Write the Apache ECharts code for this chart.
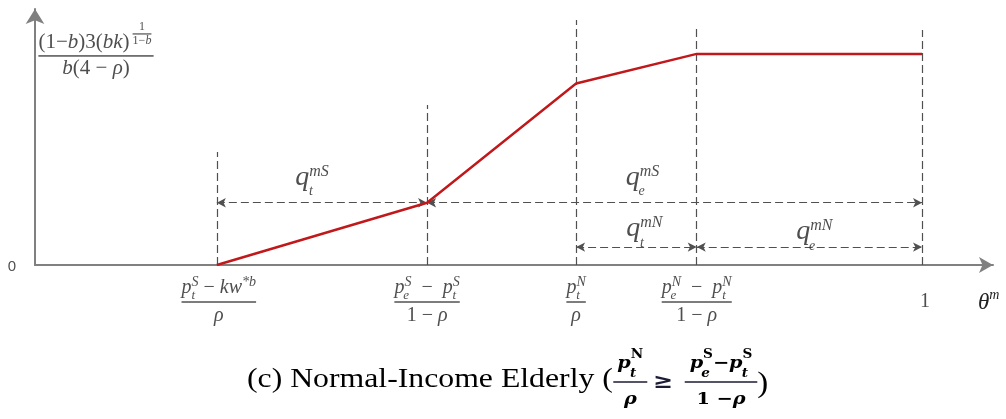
<!DOCTYPE html>
<html>
<head>
<meta charset="utf-8">
<script src="https://cdn.jsdelivr.net/npm/echarts@6/dist/echarts.min.js"></script>
<style>
  html, body { margin: 0; padding: 0; background: #fff; }
  #chart { width: 1006px; height: 419px; }
</style>
</head>
<body>
<div id="chart"></div>
<script>
  // theta of each break point and height of the demand curve there
  const breaksX = [0.205, 0.442, 0.61, 0.746, 1];
  const curveY = [0, 0.295, 0.86, 1, 1];
  // upper end of the dashed guide over each break
  const guideTop = [0.536, 0.758, 1.161, 1.137, 1.114];
  // dimension arrows: start break, end break, height
  const spanFrom = [0, 1, 2, 3];
  const spanTo = [1, 4, 3, 4];
  const spanLevel = [0.295, 0.295, 0.085, 0.085];
  const spanLabels = [
    "{q|q}{sub| t}{sup|mS}",
    "{q|q}{sub| e}{sup|mS}",
    "{q|q}{sub| t}{sup|mN}",
    "{q|q}{sub| e}{sup|mN}",
  ];
  const tickLabels = [
    "{i|p}{sub| t}{sup|S}{n| − }{i|kw}{sup|*b}\n{hr|}\n{i|ρ}",
    "{i|p}{sub| e}{sup|S}{n|  −  }{i|p}{sub| t}{sup|S}\n{hr|}\n{n|1 − }{i|ρ}",
    "{i|p}{sub| t}{sup|N}\n{hr|}\n{i|ρ}",
    "{i|p}{sub| e}{sup|N}{n|  −  }{i|p}{sub| t}{sup|N}\n{hr|}\n{n|1 − }{i|ρ}",
    "{one|1}",
  ];
  const plateauLabel = "{n|(1−}{i|b}{n|)3(}{i|bk}{n|)}{gap|}\n{hr|}\n{i|b}{n|(4 − }{i|ρ}{n|)}";
  const exponentLabel = "{e|1}\n{ehr|}\n{e|1−}{ei|b}";
  const zeroLabel = "0";
  const axisName = "{th|θ}{thsup|m}";
  const captionText = "(c) Normal-Income Elderly (";
  const captionLeft = "{ci|p}{cb| t}{cs|N}\n{chr1|}\n{cdi|ρ}";
  const captionRight = "{ci|p}{cb| e}{cs|S}{cm|−}{ci|p}{cb| t}{cs|S}\n{chr2|}\n{cd|1 −}{cdi|ρ}";

  const serif = "Liberation Serif";
  const ink = "#222";
  const dash = "#505050";

  const mathRich = {
    n: { fontFamily: serif, fontSize: 20, color: ink, lineHeight: 20, align: "center" },
    i: { fontFamily: serif, fontStyle: "italic", fontSize: 20, color: ink, lineHeight: 20, align: "center" },
    sup: { fontFamily: serif, fontStyle: "italic", fontSize: 14, color: ink, lineHeight: 10, padding: [0, 0, 12, 0], align: "center" },
    sub: { fontFamily: serif, fontStyle: "italic", fontSize: 13, color: ink, lineHeight: 10, padding: [16, 0, 0, 0], width: 0, align: "center" },
    hr: { width: "100%", height: 0, borderWidth: 0.9, borderColor: ink, lineHeight: 8, align: "left" },
    one: { fontFamily: serif, fontSize: 20, color: ink, lineHeight: 22, align: "center" },
  };
  const plateauRich = {
    n: { fontFamily: serif, fontSize: 21, color: ink, lineHeight: 20, align: "center" },
    i: { fontFamily: serif, fontStyle: "italic", fontSize: 21, color: ink, lineHeight: 20, align: "center" },
    gap: { width: 24, height: 1, lineHeight: 20, align: "center" },
    hr: { width: "100%", height: 0, borderWidth: 0.9, borderColor: ink, lineHeight: 6, align: "left" },
    e: { fontFamily: serif, fontSize: 12, color: ink, lineHeight: 11, align: "center" },
    ei: { fontFamily: serif, fontStyle: "italic", fontSize: 12, color: ink, lineHeight: 11, align: "center" },
    ehr: { width: "100%", height: 0, borderWidth: 0.7, borderColor: ink, lineHeight: 3, align: "left" },
  };
  const spanRich = {
    q: { fontFamily: serif, fontStyle: "italic", fontSize: 28, color: ink, lineHeight: 30, align: "center" },
    sup: { fontFamily: serif, fontStyle: "italic", fontSize: 16, color: ink, lineHeight: 10, padding: [0, 0, 12, 0], align: "center" },
    sub: { fontFamily: serif, fontStyle: "italic", fontSize: 14, color: ink, lineHeight: 10, padding: [28, 0, 0, 0], width: 0, align: "center" },
  };
  const captionFont = "DejaVu Serif";
  const captionInk = "#1c1c34";
  const capBase = { fontFamily: captionFont, fontWeight: "bold", color: captionInk, align: "center" };
  const captionRich = {
    ci: Object.assign({}, capBase, { fontStyle: "italic", fontSize: 17, lineHeight: 20, padding: [0, 0, 10, 0] }),
    cm: Object.assign({}, capBase, { fontSize: 17, lineHeight: 20, padding: [0, 0, 10, 0] }),
    cs: Object.assign({}, capBase, { fontSize: 12, lineHeight: 10, padding: [0, 0, 28, 0] }),
    cb: Object.assign({}, capBase, { fontStyle: "italic", fontSize: 12, lineHeight: 10, padding: [10, 0, 0, 0], width: 0 }),
    cd: Object.assign({}, capBase, { fontSize: 17, lineHeight: 20, padding: [10, 0, 0, 0] }),
    cdi: Object.assign({}, capBase, { fontStyle: "italic", fontSize: 17, lineHeight: 20, padding: [10, 0, 0, 0] }),
    chr1: { width: 30, height: 0, borderWidth: 1.5, borderColor: captionInk, lineHeight: 6, align: "left" },
    chr2: { width: 64, height: 0, borderWidth: 1.5, borderColor: captionInk, lineHeight: 6, align: "left" },
  };

  const tickOffsets = [[2, 37], [0, 37], [0, 37], [0, 37], [3, 37]];
  const spanOffsets = [[-10, -25], [-32, -25], [8, -18], [5, -15]];

  const labelData = [];
  tickLabels.forEach((t, i) => {
    labelData.push({ value: [breaksX[i], 0], label: { formatter: t, offset: tickOffsets[i] } });
  });
  spanLabels.forEach((t, i) => {
    const mid = (breaksX[spanFrom[i]] + breaksX[spanTo[i]]) / 2;
    labelData.push({ value: [mid, spanLevel[i]], label: { formatter: t, offset: spanOffsets[i], rich: spanRich } });
  });
  labelData.push({ value: [0, 1], label: { formatter: plateauLabel, offset: [61, 2], rich: plateauRich } });
  labelData.push({ value: [0, 1], label: { formatter: exponentLabel, offset: [107, -20], rich: plateauRich } });
  labelData.push({
    value: [0, 0],
    label: { formatter: zeroLabel, offset: [-23, 2], fontFamily: "Liberation Sans", fontSize: 15, color: ink },
  });

  const guideLines = breaksX.map((x, i) => [{ coord: [x, 0] }, { coord: [x, guideTop[i]] }]);
  const spanLines = spanFrom.map((f, i) => [
    { coord: [breaksX[f], spanLevel[i]] },
    { coord: [breaksX[spanTo[i]], spanLevel[i]] },
  ]);

  const axisLineStyle = { color: "#808080", width: 2 };
  const chart = echarts.init(document.getElementById("chart"));
  chart.setOption({
    animation: false,
    backgroundColor: "#fff",
    grid: { left: 35, right: 13, top: 9, bottom: 154 },
    xAxis: {
      type: "value",
      min: 0,
      max: 1.08,
      axisLine: { show: true, onZero: false, symbol: ["none", "arrow"], symbolSize: [12, 14], lineStyle: axisLineStyle },
      axisTick: { show: false },
      axisLabel: { show: false },
      splitLine: { show: false },
      name: axisName,
      nameLocation: "end",
      nameGap: -15,
      nameTextStyle: {
        align: "left",
        verticalAlign: "top",
        padding: [26, 0, 0, 0],
        rich: {
          th: { fontFamily: serif, fontStyle: "italic", fontSize: 23, color: ink, lineHeight: 24 },
          thsup: { fontFamily: serif, fontStyle: "italic", fontSize: 14, color: ink, lineHeight: 10, padding: [0, 0, 16, 0] },
        },
      },
    },
    yAxis: {
      type: "value",
      min: 0,
      max: 1.213,
      axisLine: { show: true, onZero: false, symbol: ["none", "arrow"], symbolSize: [14, 15], lineStyle: axisLineStyle },
      axisTick: { show: false },
      axisLabel: { show: false },
      splitLine: { show: false },
    },
    series: [
      {
        name: "guides",
        type: "line",
        data: [],
        silent: true,
        markLine: {
          silent: true,
          symbol: ["none", "none"],
          label: { show: false },
          lineStyle: { color: dash, width: 1.2, type: [8, 4] },
          emphasis: { disabled: true },
          data: guideLines,
        },
      },
      {
        name: "spans",
        type: "line",
        data: [],
        silent: true,
        markLine: {
          silent: true,
          symbol: ["arrow", "arrow"],
          symbolSize: [7, 9],
          label: { show: false },
          lineStyle: { color: dash, width: 1.2, type: [8, 4] },
          emphasis: { disabled: true },
          data: spanLines,
        },
      },
      {
        name: "curve",
        type: "line",
        data: breaksX.map((x, i) => [x, curveY[i]]),
        symbol: "none",
        lineStyle: { color: "#c0181b", width: 2.4 },
        z: 5,
      },
      {
        name: "labels",
        type: "scatter",
        data: labelData,
        symbolSize: 1,
        itemStyle: { color: "rgba(0,0,0,0)" },
        silent: true,
        z: 6,
        label: { show: true, position: "inside", rich: mathRich },
      },
    ],
    graphic: [
      {
        type: "group",
        x: 247,
        y: 380,
        scaleX: 1.134,
        children: [
          {
            type: "text",
            x: 0,
            y: 0,
            style: { text: captionText, fontFamily: serif, fontSize: 28, fill: "#000", align: "left", verticalAlign: "middle" },
          },
          {
            type: "text",
            x: 338,
            y: 2,
            style: { text: captionLeft, rich: captionRich, align: "center", verticalAlign: "middle" },
          },
          {
            type: "text",
            x: 367,
            y: 3,
            style: { text: "≥", fontFamily: captionFont, fontWeight: "bold", fontSize: 21, fill: captionInk, align: "center", verticalAlign: "middle" },
          },
          {
            type: "text",
            x: 418,
            y: 2,
            style: { text: captionRight, rich: captionRich, align: "center", verticalAlign: "middle" },
          },
          {
            type: "text",
            x: 450,
            y: 4,
            style: { text: ")", fontFamily: serif, fontSize: 29, fill: "#000", align: "left", verticalAlign: "middle" },
          },
        ],
      },
    ],
  });
</script>
</body>
</html>
